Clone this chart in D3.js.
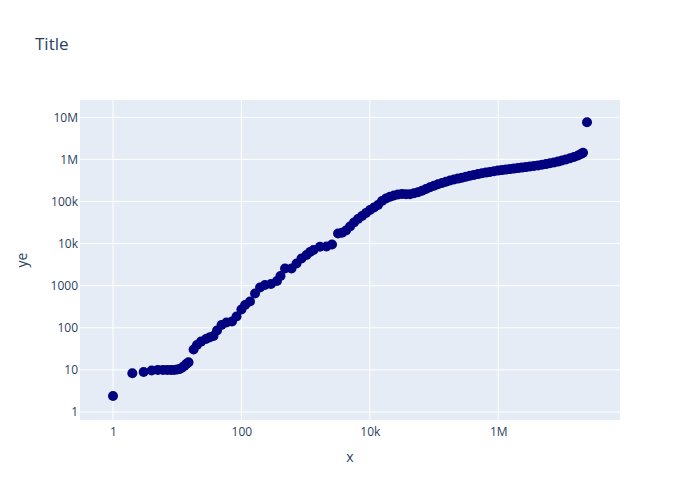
<!DOCTYPE html>
<html>
<head>
<meta charset="utf-8">
<script src="https://cdn.jsdelivr.net/npm/d3@7"></script>
<style>
  body { margin: 0; background: #fff; }
  text { font-family: "Open Sans", sans-serif; fill: #2a3f5f; }
</style>
</head>
<body>
<div class="visHolder"></div>
<script>
var width = 700,
    height = 500,
    margin = {top: 100, right: 80, bottom: 80, left: 80};

// x values
var xValues = [1, 2, 3, 4, 5, 6, 7, 8, 9, 10, 11, 12, 13, 14, 15,
  18, 20.3, 23.5, 28.1, 32.4, 36.8, 41.7, 49, 58.6, 71.4, 84, 100, 114, 136, 163, 195, 233, 289, 358, 406,
  478, 603, 722, 863, 1033, 1171, 1327, 1676, 2117, 2578,
  3200, 3690, 4260, 4920, 5670, 6550, 7560, 8730, 10070, 11630, 13420, 15490, 17880, 20640, 23820, 27500,
  31740, 36640, 42300, 48820, 56360, 65050, 75090, 86680, 100000, 115400, 133200, 153800, 177500, 204900,
  236500, 273000, 315100, 363700, 419900, 484600, 559400, 645700, 745300, 860300, 992900,
  1146000, 1323000, 1527000, 1763000, 2035000, 2349000, 2710000, 3129000, 3612000, 4169000, 4812000,
  5554000, 6412000, 7401000, 8540000, 9860000, 11380000, 13140000, 15160000, 17500000, 19490000, 20940000,
  24160000];

// y values
var yValues = [2.4, 8.3, 8.9, 9.7, 10, 10, 10, 10, 10, 10.2, 10.5, 11.4, 12.5, 14, 15.1,
  30.5, 39, 47, 54, 60, 64, 86, 117, 134, 141, 185, 272, 348, 421, 653, 906, 1040, 1097, 1294, 1700,
  2563, 2563, 3367, 4426, 5358, 6310, 7047, 8440, 8540, 9520,
  17380, 18050, 20480, 25480, 31710, 38400, 45240, 53320, 62840, 72040, 82590, 102800, 117800, 129300, 138800, 146700,
  150700, 148300, 149100, 156600, 165400, 179600, 198100, 217500, 237300, 257600, 275100, 293700, 315300, 333200,
  349900, 367600, 388200, 407900, 428200, 447400, 467500, 485900, 504900, 524500, 542000,
  556900, 572300, 588200, 604500, 621200, 638500, 656300, 678200, 697000, 716300, 744200,
  773300, 807900, 844000, 886600, 941700, 1000000, 1068000, 1140000, 1238000, 1344000, 1435000,
  7607000];

var xTicks = [1, 100, 1e4, 1e6];
var xTickLabels = ['1', '100', '10k', '1M'];
var yTicks = [1, 10, 100, 1000, 1e4, 1e5, 1e6, 1e7];
var yTickLabels = ['1', '10', '100', '1000', '10k', '100k', '1M', '10M'];

var dataset = xValues.map(function (d, i) { return {x: d, y: yValues[i]}; });

var svg = d3.select('.visHolder')
  .append('svg')
  .attr('width', width)
  .attr('height', height);

var pw = width - margin.left - margin.right,
    ph = height - margin.top - margin.bottom;

var xScale = d3.scaleLog()
  .domain([Math.pow(10, -0.514), Math.pow(10, 7.897)])
  .range([margin.left, margin.left + pw]);

var yScale = d3.scaleLog()
  .domain([Math.pow(10, -0.19), Math.pow(10, 7.411)])
  .range([margin.top + ph, margin.top]);

// plot background
svg.append('rect')
  .attr('x', margin.left)
  .attr('y', margin.top)
  .attr('width', pw)
  .attr('height', ph)
  .style('fill', '#E5ECF6');

// grid
svg.append('g')
  .selectAll('line')
  .data(xTicks)
  .enter()
  .append('line')
  .attr('x1', function (d) { return xScale(d); })
  .attr('x2', function (d) { return xScale(d); })
  .attr('y1', margin.top)
  .attr('y2', margin.top + ph)
  .style('stroke', '#fff')
  .style('stroke-width', 1);

svg.append('g')
  .selectAll('line')
  .data(yTicks)
  .enter()
  .append('line')
  .attr('x1', margin.left)
  .attr('x2', margin.left + pw)
  .attr('y1', function (d) { return yScale(d); })
  .attr('y2', function (d) { return yScale(d); })
  .style('stroke', '#fff')
  .style('stroke-width', 1);

// axes (labels only, no domain line)
var xAxis = d3.axisBottom(xScale)
  .tickValues(xTicks)
  .tickSize(0)
  .tickPadding(7)
  .tickFormat(function (d, i) { return xTickLabels[i]; });

var yAxis = d3.axisLeft(yScale)
  .tickValues(yTicks)
  .tickSize(0)
  .tickPadding(2)
  .tickFormat(function (d, i) { return yTickLabels[i]; });

svg.append('g')
  .attr('id', 'x-axis')
  .attr('transform', 'translate(0,' + (margin.top + ph) + ')')
  .call(xAxis)
  .call(function (g) { g.select('.domain').remove(); })
  .selectAll('text')
  .style('font-size', '12px')
  .style('font-family', '"Open Sans", sans-serif')
  .attr('fill', '#2a3f5f');

svg.append('g')
  .attr('id', 'y-axis')
  .attr('transform', 'translate(' + margin.left + ',0)')
  .call(yAxis)
  .call(function (g) { g.select('.domain').remove(); })
  .selectAll('text')
  .style('font-size', '12px')
  .style('font-family', '"Open Sans", sans-serif')
  .attr('fill', '#2a3f5f');

// points
svg.append('g')
  .selectAll('.dot')
  .data(dataset)
  .enter()
  .append('circle')
  .attr('class', 'dot')
  .attr('r', 5)
  .attr('cx', function (d) { return xScale(d.x); })
  .attr('cy', function (d) { return yScale(d.y); })
  .style('fill', 'navy');

// titles
svg.append('text')
  .attr('x', 35)
  .attr('y', 50)
  .style('font-size', '17px')
  .text('Title');

svg.append('text')
  .attr('x', margin.left + pw / 2)
  .attr('y', 462)
  .style('text-anchor', 'middle')
  .style('font-size', '14px')
  .text('x');

svg.append('text')
  .attr('transform', 'translate(27,' + (margin.top + ph / 2) + ') rotate(-90)')
  .style('text-anchor', 'middle')
  .style('font-size', '14px')
  .text('ye');
</script>
</body>
</html>
